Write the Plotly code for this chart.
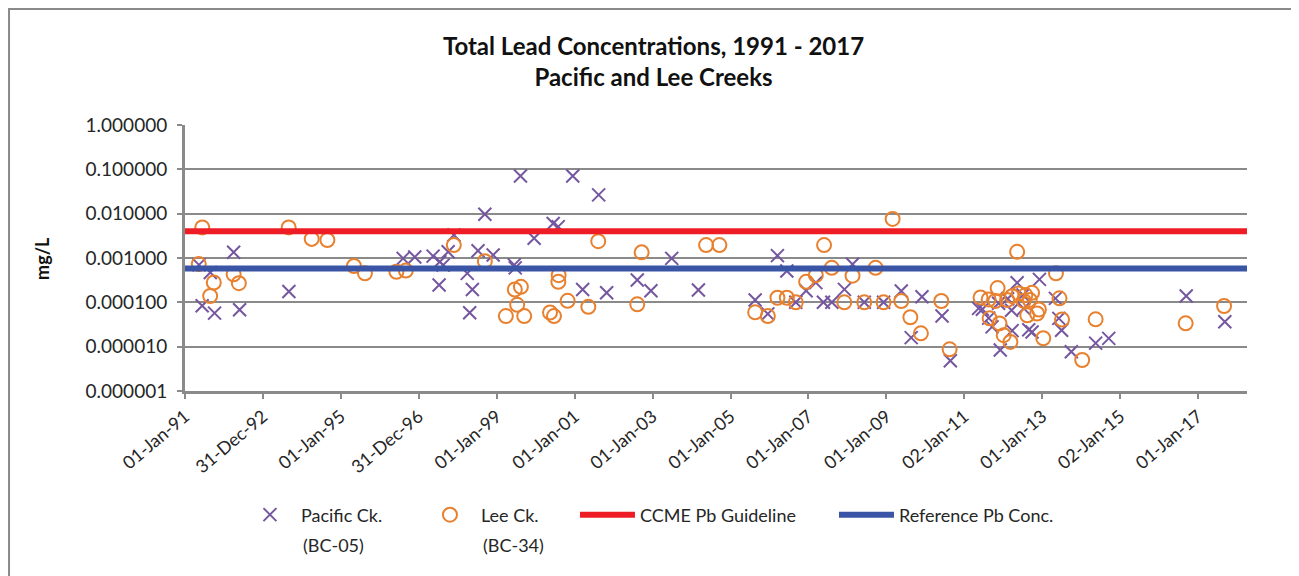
import plotly.graph_objects as go

# Pacific Ck. (BC-05) total lead, mg/L
pacific_dates = [
    "1991-05-12", "1991-06-11", "1991-08-26", "1991-10-05", "1992-04-01", "1992-05-27",
    "1993-09-01", "1996-08-07", "1996-11-24", "1997-05-15", "1997-07-17", "1997-08-17",
    "1997-10-03", "1997-11-26", "1997-07-10", "1998-03-31", "1998-04-23", "1998-05-18",
    "1998-07-10", "1998-09-12", "1998-11-29", "1999-06-15", "1999-06-24", "1999-08-12",
    "1999-12-18", "2000-06-13", "2000-07-31", "2000-12-14", "2001-03-17", "2001-08-14",
    "2001-10-28", "2002-08-11", "2002-12-17", "2003-06-30", "2004-03-06", "2005-08-20",
    "2005-12-17", "2006-03-17", "2006-06-13", "2006-09-05", "2006-12-11", "2007-03-12",
    "2007-05-22", "2007-08-09", "2007-12-05", "2008-02-19", "2008-06-08", "2008-12-06",
    "2009-05-21", "2009-08-22", "2009-12-01", "2010-06-07", "2010-08-24", "2011-05-16",
    "2011-06-20", "2011-08-18", "2011-09-19", "2011-11-19", "2011-12-05", "2012-02-12",
    "2012-03-20", "2012-03-25", "2012-05-11", "2012-07-05", "2012-07-12", "2012-08-28",
    "2012-09-28", "2012-12-06", "2013-05-05", "2013-06-06", "2013-07-02", "2013-10-01",
    "2014-05-17", "2014-09-17", "2016-09-12", "2017-09-09",
]
pacific_pb = [
    0.0007, 0.000084, 0.00047, 0.000057, 0.00135, 0.000068,
    0.000175, 0.00098, 0.00105, 0.0011, 0.00082, 0.00069,
    0.00138, 0.0033, 0.000245, 0.00045, 0.000058, 0.000195,
    0.00146, 0.0097, 0.00117, 0.0007, 0.0006, 0.071,
    0.0028, 0.006, 0.0051, 0.071, 0.000195, 0.0265,
    0.000165, 0.00032, 0.000183, 0.00098, 0.00019, 0.000113,
    0.000055, 0.00113, 0.00051, 0.0001, 0.000183, 0.000278,
    0.0001, 0.0001, 0.000196, 0.00072, 0.0001, 0.0001,
    0.00018, 0.000016, 0.000134, 0.000049, 0.0000048, 0.000073,
    0.00007, 0.000044, 0.000028, 0.000095, 0.0000084, 0.00012,
    0.000066, 0.000023, 0.000276, 0.000146, 0.000073, 0.000024,
    0.0000215, 0.00033, 0.000123, 0.0000435, 0.0000235, 0.0000077,
    0.000012, 0.0000154, 0.000139, 0.0000366,
]

# Lee Ck. (BC-34) total lead, mg/L
lee_dates = [
    "1991-05-10", "1991-06-12", "1991-08-25", "1991-09-28", "1992-04-01", "1992-05-20",
    "1993-08-30", "1994-04-03", "1994-08-28", "1995-05-04", "1995-08-15", "1996-06-05",
    "1996-09-01", "1997-11-25", "1998-09-12", "1999-03-28", "1999-06-20", "1999-07-12",
    "1999-08-16", "1999-09-16", "2000-05-15", "2000-06-21", "2000-08-04", "2000-08-01",
    "2000-10-27", "2001-05-09", "2001-08-10", "2002-08-11", "2002-09-21", "2004-05-17",
    "2004-09-19", "2005-08-20", "2005-12-17", "2006-03-17", "2006-06-13", "2006-09-05",
    "2006-12-11", "2007-03-12", "2007-05-28", "2007-08-08", "2007-12-04", "2008-02-19",
    "2008-06-08", "2008-09-22", "2008-12-06", "2009-03-01", "2009-05-21", "2009-08-14",
    "2009-11-21", "2010-05-31", "2010-08-17", "2011-06-03", "2011-08-18", "2011-08-27",
    "2011-10-19", "2011-11-10", "2011-11-28", "2012-01-06", "2012-02-07", "2012-03-09",
    "2012-03-25", "2012-05-11", "2012-05-26", "2012-07-12", "2012-07-27", "2012-08-14",
    "2012-09-06", "2012-09-28", "2012-11-14", "2012-12-01", "2013-01-11", "2013-05-10",
    "2013-06-12", "2013-07-06", "2014-01-11", "2014-05-17", "2016-09-07", "2017-09-02",
]
lee_pb = [
    0.00073, 0.0049, 0.000139, 0.00028, 0.00043, 0.00027,
    0.0049, 0.0027, 0.00255, 0.00066, 0.00045, 0.00049,
    0.00052, 0.00196, 0.00085, 0.000049, 0.000195, 0.000088,
    0.000224, 0.000049, 0.000059, 0.000049, 0.00041, 0.00029,
    0.000108, 0.000079, 0.0024, 0.00009, 0.00134, 0.00196,
    0.00196, 0.0000595, 0.000049, 0.000127, 0.000127, 0.0001,
    0.00029, 0.00041, 0.00196, 0.0006, 0.0001, 0.0004,
    0.0001, 0.0006, 0.0001, 0.0076, 0.000107, 0.000046,
    0.00002, 0.000107, 0.0000087, 0.000129, 0.000116, 0.0000435,
    0.000107, 0.00021, 0.0000334, 0.0000182, 0.000113, 0.0000128,
    0.000138, 0.00138, 0.000159, 0.000108, 0.000146, 0.000051,
    0.000113, 0.000164, 0.000056, 0.000069, 0.0000155, 0.00045,
    0.000123, 0.000041, 0.000005, 0.0000414, 0.0000336, 0.0000826,
]

# horizontal reference series
line_dates = ["1991-01-01", "2018-04-05"]
ccme_guideline = [0.004, 0.004]
reference_conc = [0.00058, 0.00058]

x_tick_dates = [
    "1991-01-01", "1992-12-31", "1995-01-01", "1996-12-31", "1999-01-01", "2001-01-01",
    "2003-01-01", "2005-01-01", "2007-01-01", "2009-01-01", "2011-01-02", "2013-01-01",
    "2015-01-02", "2017-01-01",
]
x_tick_labels = [
    "01-Jan-91", "31-Dec-92", "01-Jan-95", "31-Dec-96", "01-Jan-99", "01-Jan-01",
    "01-Jan-03", "01-Jan-05", "01-Jan-07", "01-Jan-09", "02-Jan-11", "01-Jan-13",
    "02-Jan-15", "01-Jan-17",
]
y_tick_vals = [1e-6, 1e-5, 1e-4, 1e-3, 1e-2, 1e-1, 1]
y_tick_labels = ["0.000001", "0.000010", "0.000100", "0.001000", "0.010000", "0.100000", "1.000000"]

font_family = "Lato, 'Open Sans', sans-serif"
text_color = '#262626'
grey = '#8a8a8a'

fig = go.Figure()
fig.add_trace(go.Scatter(
    x=pacific_dates, y=pacific_pb, mode='markers', name='Pacific Ck.', legend='legend',
    marker=dict(symbol='x-thin-open', size=13, color='#7557a0', line=dict(width=2, color='#7557a0')),
))
fig.add_trace(go.Scatter(
    x=lee_dates, y=lee_pb, mode='markers', name='Lee Ck.', legend='legend2',
    marker=dict(symbol='circle-open', size=14, color='#e8812f', line=dict(width=2, color='#e8812f')),
))
fig.add_trace(go.Scatter(
    x=line_dates, y=ccme_guideline, mode='lines', name='CCME Pb Guideline', legend='legend3',
    line=dict(color='#ee1c25', width=6),
))
fig.add_trace(go.Scatter(
    x=line_dates, y=reference_conc, mode='lines', name='Reference Pb Conc.', legend='legend4',
    line=dict(color='#3a55a6', width=6),
))

legend_common = dict(
    orientation='h', xanchor='left', y=-0.466, yanchor='middle',
    font=dict(size=18, color=text_color), bgcolor='rgba(0,0,0,0)',
)

fig.update_layout(
    width=1291, height=568,
    margin=dict(l=177, r=52, t=117, b=185),
    paper_bgcolor='white', plot_bgcolor='white',
    font=dict(family=font_family, size=18, color=text_color),
    showlegend=True,
    title=dict(
        text='Total Lead Concentrations, 1991 - 2017<br>Pacific and Lee Creeks',
        x=0.5, xanchor='center', xref='container',
        y=0.918, yanchor='top', yref='container',
        font=dict(family=font_family, size=24, color='#111111', weight='bold'),
    ),
    xaxis=dict(
        type='date', range=["1991-01-01", "2018-04-05"],
        tickvals=x_tick_dates, ticktext=x_tick_labels, tickangle=-40,
        ticks='outside', ticklen=5, tickwidth=1.5, tickcolor=grey,
        showgrid=False, showline=True, linecolor=grey, linewidth=3,
        tickfont=dict(size=18), zeroline=False,
    ),
    yaxis=dict(
        type='log', range=[-6, 0],
        tickvals=y_tick_vals, ticktext=y_tick_labels,
        ticks='outside', ticklen=5, tickwidth=1.5, tickcolor=grey,
        ticklabelstandoff=6,
        showgrid=True, gridcolor=grey, gridwidth=2,
        showline=True, linecolor=grey, linewidth=3,
        tickfont=dict(size=19), zeroline=False,
    ),
    legend=dict(legend_common, x=0.0508, itemwidth=52),
    legend2=dict(legend_common, x=0.2203, itemwidth=52),
    legend3=dict(legend_common, x=0.3672, itemwidth=55),
    legend4=dict(legend_common, x=0.6111, itemwidth=55),
    shapes=[dict(
        type='rect', xref='paper', yref='paper',
        x0=-0.1657, x1=1.0452, y0=-1.2, y1=1.436,
        line=dict(color=grey, width=2), fillcolor='rgba(0,0,0,0)', layer='below',
    )],
    annotations=[
        dict(text='<b>mg/L</b>', xref='paper', yref='paper', x=-0.1347, y=0.5,
             xanchor='center', yanchor='middle',
             textangle=-90, showarrow=False, font=dict(size=18, color='#111111')),
        dict(text='(BC-05)', xref='paper', yref='paper', x=0.1092, y=-0.579,
             xanchor='left', yanchor='middle', showarrow=False, font=dict(size=18, color=text_color)),
        dict(text='(BC-34)', xref='paper', yref='paper', x=0.2787, y=-0.579,
             xanchor='left', yanchor='middle', showarrow=False, font=dict(size=18, color=text_color)),
    ],
)

fig.write_html("out.html")
